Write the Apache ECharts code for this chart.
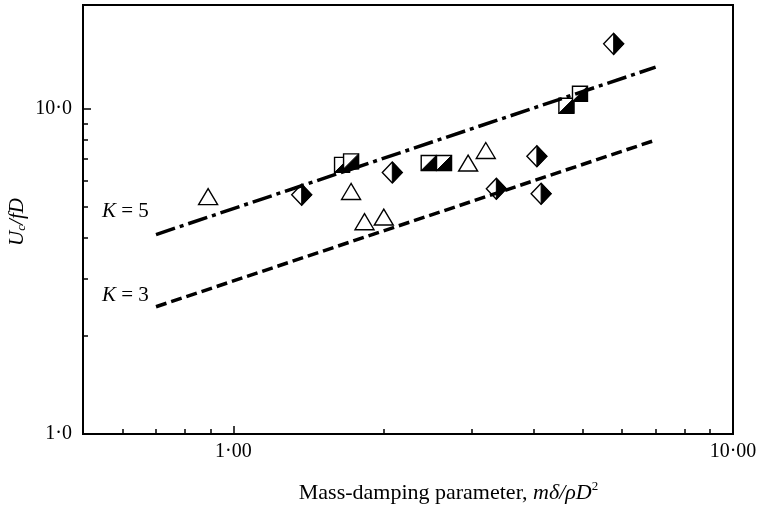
<!DOCTYPE html>
<html>
<head>
<meta charset="utf-8">
<script src="https://cdn.jsdelivr.net/npm/echarts@6/dist/echarts.min.js"></script>
<style>
  html, body { margin: 0; padding: 0; background: #fff; }
  #chart { width: 759px; height: 509px; }
</style>
</head>
<body>
<div id="chart"></div>
<script>
// mass-damping parameter (x) and reduced velocity Uc/fD (y)
const triangles = [[0.89, 5.36], [1.72, 5.56], [1.83, 4.49], [2.0, 4.64], [2.95, 6.8], [3.2, 7.43]];
const squares = [[1.65, 6.71], [1.72, 6.88], [2.46, 6.8], [2.64, 6.8], [4.64, 10.2], [4.94, 11.1]];
const diamonds = [[1.37, 5.43], [2.08, 6.36], [3.36, 5.67], [4.05, 7.13], [4.13, 5.47], [5.77, 15.8]];
const lineK5 = [[0.7, 4.1], [7.0, 13.4]];
const lineK3 = [[0.7, 2.46], [7.0, 8.0]];

const xMajor = [1, 10];
const xMinor = [0.6, 0.7, 0.8, 0.9, 2, 3, 4, 5, 6, 7, 8, 9];
const yMajor = [1, 10];
const yMinor = [2, 3, 4, 5, 6, 7, 8, 9];
const xLabels = { 1: '1·00', 10: '10·00' };
const yLabels = { 1: '1·0', 10: '10·0' };

const FONT = '"Liberation Serif", "DejaVu Serif", serif';
const chart = echarts.init(document.getElementById('chart'));

function markerItem(kind) {
  return function (params, api) {
    const p = api.coord([api.value(0), api.value(1)]);
    const x = p[0], y = p[1];
    const stroke = { stroke: '#000', lineWidth: 1.4, fill: '#fff' };
    if (kind === 'tri') {
      const w = 19, h = 16;
      return {
        type: 'polygon',
        shape: { points: [[x, y - h / 2], [x - w / 2, y + h / 2], [x + w / 2, y + h / 2]] },
        style: stroke
      };
    }
    if (kind === 'sq') {
      const s = 15;
      return {
        type: 'group',
        children: [
          { type: 'rect', shape: { x: x - s / 2, y: y - s / 2, width: s, height: s }, style: stroke },
          { type: 'polygon', shape: { points: [[x + s / 2, y - s / 2], [x + s / 2, y + s / 2], [x - s / 2, y + s / 2]] },
            style: { fill: '#000', stroke: '#000', lineWidth: 1 } }
        ]
      };
    }
    const w = 20, h = 21;
    return {
      type: 'group',
      children: [
        { type: 'polygon', shape: { points: [[x, y - h / 2], [x + w / 2, y], [x, y + h / 2], [x - w / 2, y]] }, style: stroke },
        { type: 'polygon', shape: { points: [[x, y - h / 2], [x + w / 2, y], [x, y + h / 2]] },
          style: { fill: '#000', stroke: '#000', lineWidth: 1 } }
      ]
    };
  };
}

function logAxis(min, max, major, labels, isX, extra) {
  return Object.assign({
    type: 'log',
    logBase: 10,
    min: min,
    max: max,
    axisLine: { show: true, lineStyle: { color: '#000', width: 2 } },
    axisTick: { show: true, inside: true, length: 8, customValues: major, lineStyle: { color: '#000', width: 1.5 } },
    axisLabel: {
      show: true,
      customValues: major,
      formatter: function (v) { return labels[Math.round(v)] || ''; },
      color: '#000',
      fontFamily: FONT,
      fontSize: 20,
      margin: isX ? 8 : 11
    },
    splitLine: { show: false },
    minorTick: { show: false }
  }, extra);
}

function minorAxis(min, max, minor, isX) {
  return {
    type: 'log',
    logBase: 10,
    min: min,
    max: max,
    position: isX ? 'bottom' : 'left',
    axisLine: { show: false },
    axisTick: { show: true, inside: true, length: 5, customValues: minor, lineStyle: { color: '#000', width: 1.5 } },
    axisLabel: { show: false },
    splitLine: { show: false }
  };
}

chart.setOption({
  animation: false,
  backgroundColor: '#fff',
  grid: {
    left: 83, right: 26, top: 5, bottom: 75, outerBoundsMode: 'none', containLabel: false,
    show: true, borderColor: '#000', borderWidth: 2, backgroundColor: 'transparent'
  },
  xAxis: [
    logAxis(0.5, 10, xMajor, xLabels, true, {
      name: 'Mass-damping parameter, {i|mδ/ρD}{sup|2}',
      nameLocation: 'middle',
      nameGap: 46,
      nameTextStyle: {
        color: '#000', fontFamily: FONT, fontSize: 22, padding: [0, 0, 0, 81],
        rich: {
          i: { fontFamily: FONT, fontSize: 22, fontStyle: 'italic', color: '#000' },
          sup: { fontFamily: FONT, fontSize: 13, color: '#000', padding: [0, 0, 14, 0] }
        }
      }
    }),
    minorAxis(0.5, 10, xMinor, true)
  ],
  yAxis: [
    logAxis(1, 20.8, yMajor, yLabels, false, {}),
    minorAxis(1, 20.8, yMinor, false)
  ],
  graphic: [
    { type: 'text', x: 17, y: 222, rotation: Math.PI / 2, z: 10,
      style: {
        text: '{i|U}{sub|c}{i|/fD}', x: 0, y: 0, align: 'center', verticalAlign: 'middle', fill: '#000',
        font: 'italic 21px ' + FONT,
        rich: {
          i: { fontFamily: FONT, fontSize: 21, fontStyle: 'italic' },
          sub: { fontFamily: FONT, fontSize: 13, fontStyle: 'italic', padding: [10, 0, 0, 0] }
        }
      } },
    { type: 'text', left: 102, top: 201, z: 10,
      style: { text: '{i|K} = 5', font: '21px ' + FONT, fill: '#000', rich: { i: { fontStyle: 'italic', fontFamily: FONT, fontSize: 21 } } } },
    { type: 'text', left: 102, top: 285, z: 10,
      style: { text: '{i|K} = 3', font: '21px ' + FONT, fill: '#000', rich: { i: { fontStyle: 'italic', fontFamily: FONT, fontSize: 21 } } } }
  ],
  series: [
    { type: 'custom', name: 'triangles', data: triangles, renderItem: markerItem('tri'), z: 2, clip: false },
    { type: 'custom', name: 'squares', data: squares, renderItem: markerItem('sq'), z: 2, clip: false },
    { type: 'custom', name: 'diamonds', data: diamonds, renderItem: markerItem('dia'), z: 2, clip: false },
    { type: 'line', name: 'K = 5', data: lineK5, symbol: 'none', z: 3,
      lineStyle: { color: '#000', width: 3.5, type: [20, 5, 4, 5], cap: 'butt' } },
    { type: 'line', name: 'K = 3', data: lineK3, symbol: 'none', z: 3,
      lineStyle: { color: '#000', width: 3.5, type: [11, 5], cap: 'butt' } }
  ]
});
</script>
</body>
</html>
